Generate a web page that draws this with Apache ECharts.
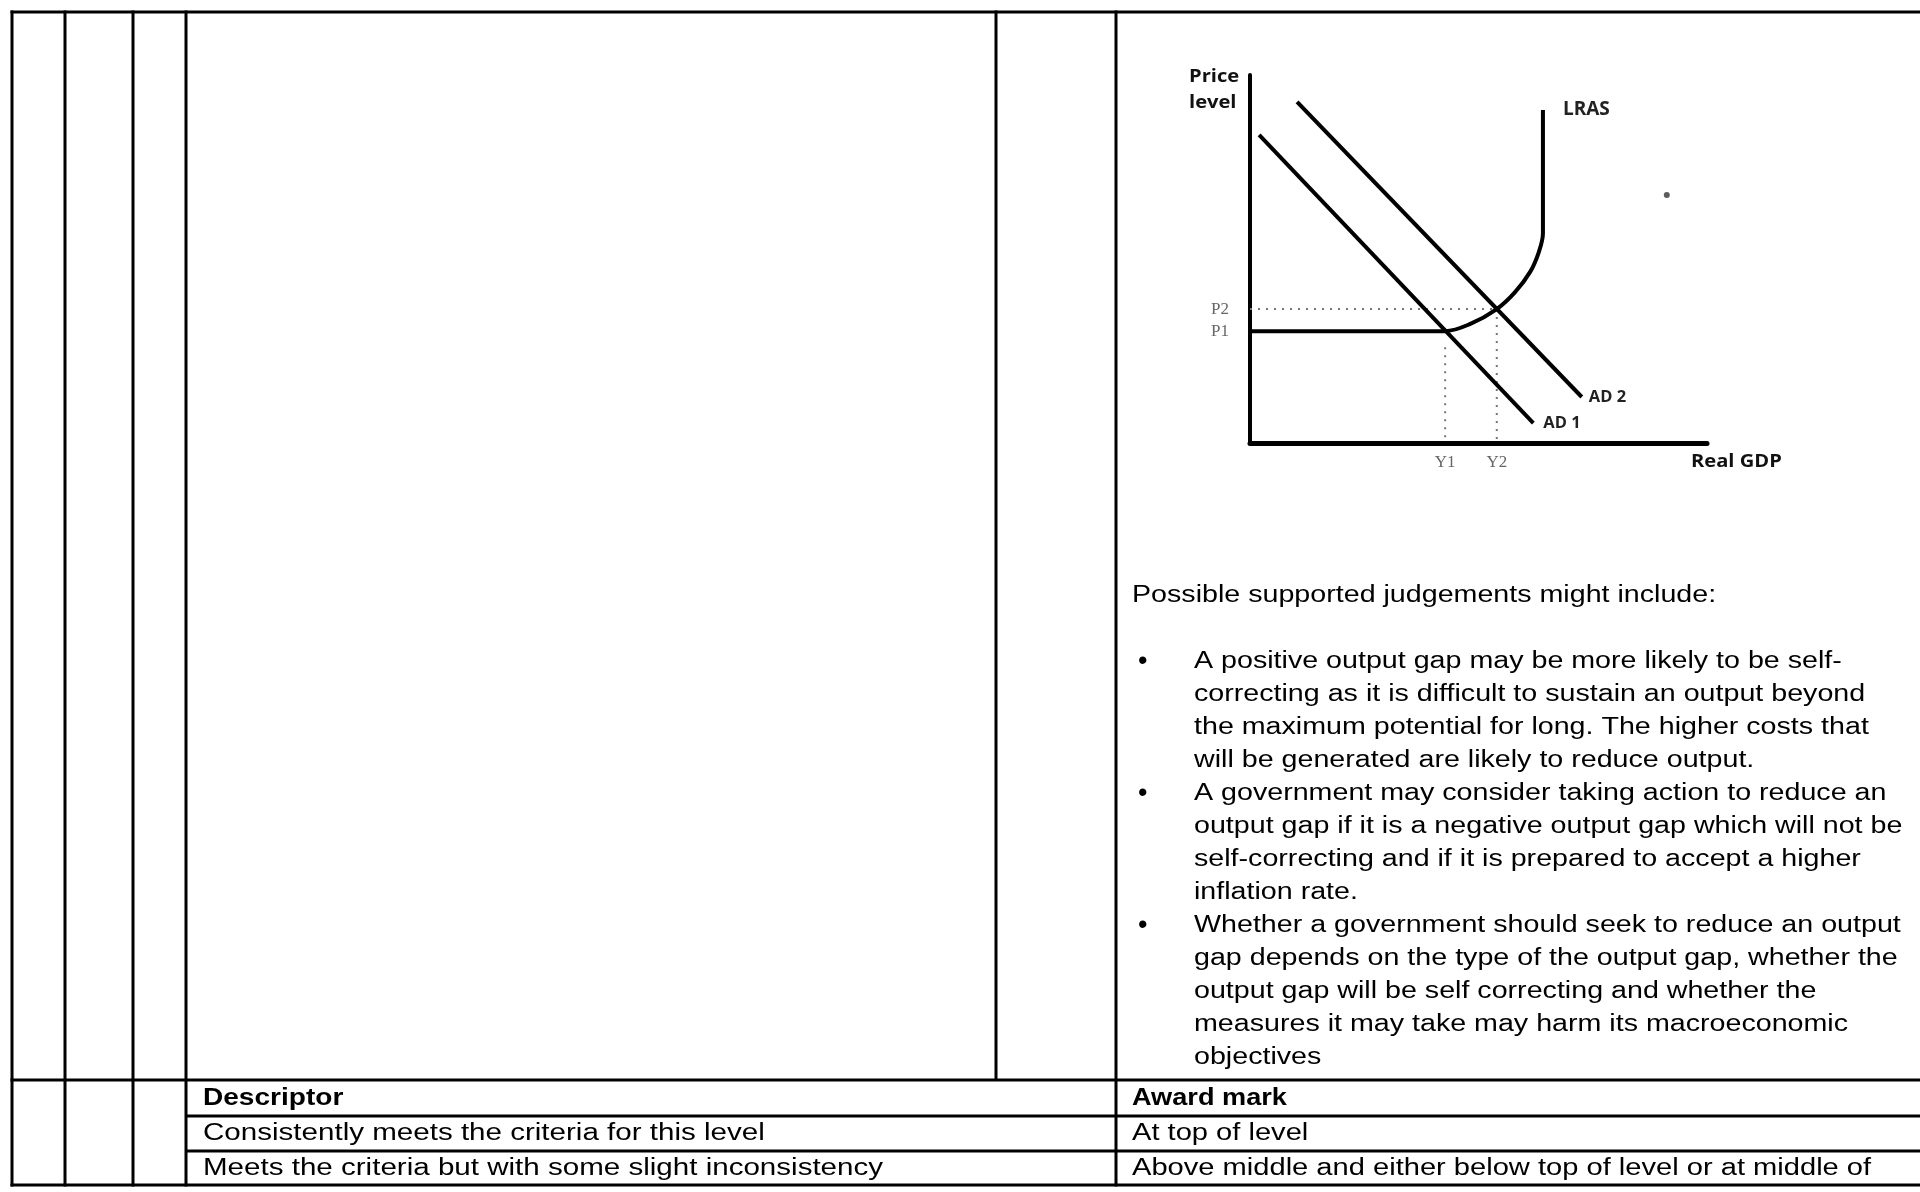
<!DOCTYPE html>
<html>
<head>
<meta charset="utf-8">
<script src="https://cdn.jsdelivr.net/npm/echarts@6/dist/echarts.min.js"></script>
<style>
html,body{margin:0;padding:0;background:#fff;}
#main{width:1920px;height:1192px;}
</style>
</head>
<body>
<div id="main"></div>
<script>
// ---- Diagram data (Real GDP on x, Price level on y; axis 0..100) ----
const ad1 = [[2, 83.7], [62, 5.4]];
const ad2 = [[10.3, 92.7], [72.6, 12.5]];
const lras = [[0, 30.4], [42.7, 30.4], [48.1, 32.3], [54.0, 36.4], [58.0, 41.0], [61.3, 46.5], [63.2, 51.9], [64.1, 57.0], [64.1, 90.5]];
const priceLevels = [30.4, 36.4];
const priceTicks = ['P1', 'P2'];
const gdpLevels = [42.7, 54.0];
const gdpTicks = ['Y1', 'Y2'];
const p2Guide = [[0, 36.4], [54.0, 36.4]];
const y2Guide = [[54.0, 36.4], [54.0, 0]];
const y1Guide = [[42.7, 26.0], [42.7, 0]];
const strayDot = [[91.2, 67.4]];

// ---- Document text ----
const introText = 'Possible supported judgements might include:';
const bullets = [
  ['A positive output gap may be more likely to be self-',
   'correcting as it is difficult to sustain an output beyond',
   'the maximum potential for long. The higher costs that',
   'will be generated are likely to reduce output.'],
  ['A government may consider taking action to reduce an',
   'output gap if it is a negative output gap which will not be',
   'self-correcting and if it is prepared to accept a higher',
   'inflation rate.'],
  ['Whether a government should seek to reduce an output',
   'gap depends on the type of the output gap, whether the',
   'output gap will be self correcting and whether the',
   'measures it may take may harm its macroeconomic',
   'objectives']
];
const descriptorRows = ['Descriptor', 'Consistently meets the criteria for this level', 'Meets the criteria but with some slight inconsistency'];
const markRows = ['Award mark', 'At top of level', 'Above middle and either below top of level or at middle of'];

const chart = echarts.init(document.getElementById('main'), null, {renderer: 'canvas'});

const FONT = '"Liberation Sans", Arial, sans-serif';
const SX = 1.245;
const g = [];
function hline(y, x1, x2) { g.push({type: 'line', silent: true, shape: {x1: x1, y1: y, x2: x2, y2: y}, style: {stroke: '#000', lineWidth: 3}}); }
function vline(x, y1, y2) { g.push({type: 'line', silent: true, shape: {x1: x, y1: y1, x2: x, y2: y2}, style: {stroke: '#000', lineWidth: 3}}); }
function txt(s, x, y, opts) {
  opts = opts || {};
  g.push({type: 'text', silent: true, x: x, y: y, scaleX: opts.sx || SX, z: 10,
    style: {text: s, fill: opts.fill || '#000', font: (opts.weight || 'normal') + ' ' + (opts.size || 23) + 'px ' + (opts.family || FONT), align: opts.align || 'left', verticalAlign: 'middle'}});
}

// table borders
hline(12, 10.5, 1920);
hline(1080, 10.5, 1920);
hline(1116, 186, 1920);
hline(1151, 186, 1920);
hline(1185, 10.5, 1920);
[12, 65, 133, 186, 1116].forEach(x => vline(x, 10.5, 1186.5));
vline(996, 10.5, 1080);

// right column text
txt(introText, 1132, 596);
let yy = 662;
bullets.forEach(b => {
  txt('\u2022', 1138, yy, {sx: 1, size: 27});
  b.forEach(line => { txt(line, 1194, yy); yy += 33; });
});

// bottom rows
const rowMid = [1099, 1134, 1169];
descriptorRows.forEach((s, i) => txt(s, 203, rowMid[i], {weight: i === 0 ? 'bold' : 'normal', sx: i === 0 ? 1.22 : 1.285}));
markRows.forEach((s, i) => txt(s, 1132, rowMid[i], {weight: i === 0 ? 'bold' : 'normal', sx: i === 0 ? 1.18 : 1.265}));

// diagram axis titles
const LF = '"Open Sans", "Noto Sans", sans-serif';
txt('Price', 1189, 77, {size: 17.5, weight: 'bold', family: LF, sx: 1.15, fill: '#111'});
txt('level', 1189, 103, {size: 17.5, weight: 'bold', family: LF, sx: 1.15, fill: '#111'});
txt('Real GDP', 1691, 462, {size: 17.5, weight: 'bold', family: LF, sx: 1.15, fill: '#111'});

const curveLine = {color: '#000', width: 4};
const guideLine = {color: '#777', width: 2, type: [2, 6]};
const endLab = (t, d) => ({show: true, formatter: t, distance: d, color: '#222', fontFamily: LF, fontWeight: 'bold', fontSize: 16.5});

chart.setOption({
  animation: false,
  backgroundColor: '#fff',
  grid: {left: 1250, top: 75, right: 213, bottom: 749},
  xAxis: {
    type: 'value', min: 0, max: 100,
    splitLine: {show: false}, axisTick: {show: false},
    axisLine: {show: true, lineStyle: {color: '#000', width: 5}},
    axisLabel: {
      customValues: gdpLevels, margin: 11, color: '#666', fontSize: 17,
      fontFamily: '"Liberation Serif", serif',
      formatter: v => { const i = gdpLevels.findIndex(p => Math.abs(p - v) < 1e-6); return i >= 0 ? gdpTicks[i] : ''; }
    }
  },
  yAxis: {
    type: 'value', min: 0, max: 100,
    splitLine: {show: false}, axisTick: {show: false},
    axisLine: {show: true, lineStyle: {color: '#000', width: 4}},
    axisLabel: {
      customValues: priceLevels, margin: 21, color: '#666', fontSize: 17,
      fontFamily: '"Liberation Serif", serif',
      formatter: v => { const i = priceLevels.findIndex(p => Math.abs(p - v) < 1e-6); return i >= 0 ? priceTicks[i] : ''; }
    }
  },
  series: [
    {name: 'P2 guide', type: 'line', data: p2Guide, symbol: 'none', lineStyle: guideLine, z: 1},
    {name: 'Y2 guide', type: 'line', data: y2Guide, symbol: 'none', lineStyle: guideLine, z: 1},
    {name: 'Y1 guide', type: 'line', data: y1Guide, symbol: 'none', lineStyle: guideLine, z: 1},
    {name: 'AD 1', type: 'line', data: ad1, symbol: 'none', lineStyle: curveLine, endLabel: endLab('AD 1', 10), z: 3},
    {name: 'AD 2', type: 'line', data: ad2, symbol: 'none', lineStyle: curveLine, endLabel: endLab('AD 2', 7), z: 3},
    {name: 'LRAS', type: 'line', data: lras, symbol: 'none', smooth: 0.35, lineStyle: curveLine,
     endLabel: {show: true, formatter: 'LRAS', distance: 20, color: '#222', fontFamily: LF, fontWeight: 'bold', fontSize: 19}, z: 3},
    {name: 'dot', type: 'scatter', data: strayDot, symbolSize: 6, itemStyle: {color: '#333'}}
  ],
  graphic: g
});
</script>
</body>
</html>
